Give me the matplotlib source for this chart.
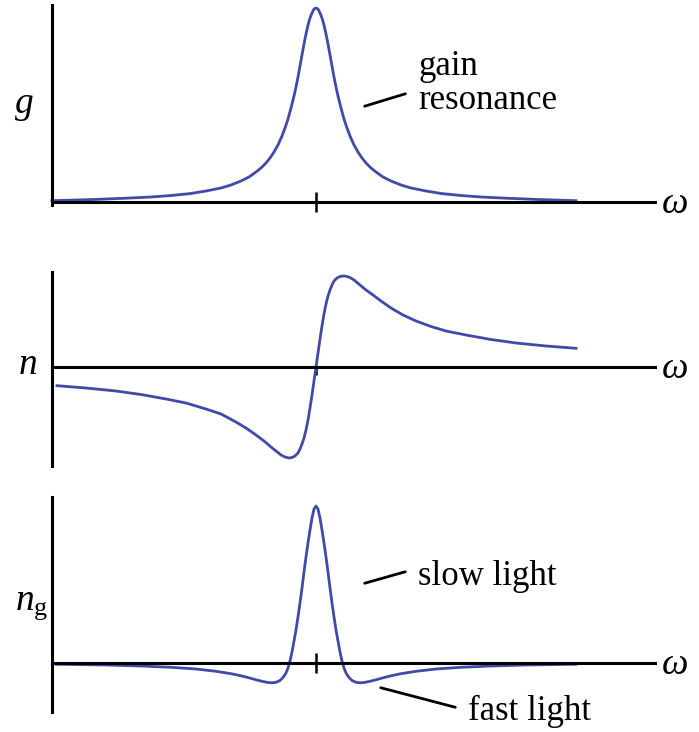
import matplotlib
matplotlib.use("Agg")
import matplotlib.pyplot as plt

plt.rcParams['mathtext.fontset'] = 'custom'
plt.rcParams['mathtext.it'] = 'Liberation Serif:italic'
plt.rcParams['mathtext.rm'] = 'Liberation Serif'

# detuning from resonance (arbitrary units) and curve heights
det_g = [-264, -220, -190, -165, -145, -125, -110, -95, -85, -75, -67, -60, -55, -50, -46, -42, -38,
         -34, -31, -28, -25, -22, -20, -18, -16, -14, -12, -10, -8, -6, -4, -2, 0,
         2, 4, 6, 8, 10, 12, 14, 16, 18, 20, 22, 25, 28, 31, 34, 38, 42, 46, 50, 55, 60, 67, 75,
         85, 95, 110, 125, 145, 165, 190, 220, 260]
gain = [1.3, 2.6, 3.8, 5, 6.5, 8.5, 11, 14, 17, 21, 25, 30, 34, 39, 44, 50, 57,
        66, 74, 83, 94, 106, 115, 125, 136, 147, 158, 168, 177, 184, 189, 193, 194,
        193, 189, 184, 177, 168, 158, 147, 136, 125, 115, 106, 94, 83, 74, 66, 57, 50, 44, 39, 34, 30, 25, 21,
        17, 14, 11, 8.5, 6.5, 5, 3.8, 2.6, 1.3]

det_n = [-259, -230, -200, -175, -150, -130, -110, -95, -80, -70, -60, -52, -45, -40, -35, -31, -27,
         -24, -21, -18, -16, -14, -12, -10, -8, -6, -4, -2, 0, 2, 4, 6, 8, 10, 12, 14, 16, 18, 21,
         24, 27, 30, 34, 38, 44, 50, 57, 65, 75, 87, 100, 115, 130, 150, 175, 200, 230, 260]
index_n = [-18.7, -21, -24, -27.5, -32, -36, -42, -47, -55, -61, -68, -74, -80, -84, -88, -90, -91,
           -90.5, -89, -86, -82, -77, -71, -63, -53, -41, -28, -14, 0, 14, 28, 41, 53, 63, 71, 77, 82, 86, 89,
           90.5, 91, 90.8, 89.5, 87, 82, 77, 72, 66, 59, 52, 46, 40.5, 36, 32, 27.5, 24, 21, 18.7]

det_ng = [-260, -210, -175, -145, -120, -100, -85, -75, -67, -60, -54, -48, -44, -40, -36, -33, -30,
          -28, -26, -24, -22, -20, -18, -16, -14, -12, -10, -8, -6, -4, -2, 0,
          2, 4, 6, 8, 10, 12, 14, 16, 18, 20, 22, 24, 26, 28, 30, 33, 36, 40, 44, 48, 54, 60, 67,
          75, 85, 100, 120, 145, 175, 210, 260]
group_n = [-1.2, -2, -3, -4.3, -6, -8.3, -10.7, -12.8, -14.8, -16.8, -18.3, -19.5, -19.8, -19.3, -17.5, -14.5, -10,
           -5, 2, 11, 22, 33, 46, 60, 75, 91, 106, 120, 133, 145, 154, 157,
           154, 145, 133, 120, 106, 91, 75, 60, 46, 33, 22, 11, 2, -5, -10, -14.5, -17.5, -19.3, -19.8, -19.5, -18.3, -16.8, -14.8,
           -12.8, -10.7, -8.3, -6, -4.3, -3, -2, -1.2]

W, H = 699, 732
curve_color = '#4149a9'

fig = plt.figure(figsize=(W / 100, H / 100), dpi=100)


def make_axes(top_px, bottom_px, base_px):
    ax = fig.add_axes([52 / W, 1 - bottom_px / H, 603 / W, (bottom_px - top_px) / H])
    ax.set_xlim(-264, 339)
    ax.set_ylim(-(bottom_px - base_px), base_px - top_px)
    for s in ['top', 'right']:
        ax.spines[s].set_visible(False)
    ax.spines['bottom'].set_position(('data', 0))
    ax.spines['left'].set_linewidth(2.2)
    ax.spines['bottom'].set_linewidth(2.2)
    ax.set_yticks([])
    ax.set_xticks([0])
    ax.set_xticklabels([])
    ax.patch.set_alpha(0)
    return ax


curve_kw = dict(color=curve_color, lw=2.0, clip_on=False, solid_joinstyle='round')

ax1 = make_axes(5, 205, 202)
ax1.tick_params(axis='x', direction='inout', length=14, width=1.8)
ax1.plot(det_g, gain, **curve_kw)

ax2 = make_axes(272, 466, 367)
ax2.tick_params(axis='x', direction='out', length=6, width=1.8)
ax2.plot(det_n, index_n, **curve_kw)

ax3 = make_axes(497, 712, 663)
ax3.tick_params(axis='x', direction='inout', length=14, width=1.8)
ax3.plot(det_ng, group_n, **curve_kw)

# leader lines for the labels
line_kw = dict(arrowstyle='-', lw=2.0, color='black')
ax1.annotate('', xy=(46, 95), xytext=(92, 109), arrowprops=line_kw, annotation_clip=False)
ax3.annotate('', xy=(46, 79), xytext=(92, 92), arrowprops=line_kw, annotation_clip=False)
ax3.annotate('', xy=(62, -24), xytext=(142, -45), arrowprops=line_kw, annotation_clip=False)

txt = dict(family='Liberation Serif', fontsize=25, va='baseline', ha='left')
fig.text(418 / W, 1 - 75 / H, 'gain', **txt)
fig.text(418 / W, 1 - 109 / H, 'resonance', **txt)
fig.text(418 / W, 1 - 585 / H, 'slow light', **txt)
fig.text(468 / W, 1 - 720 / H, 'fast light', **txt)

sym = dict(family='Liberation Serif', style='italic', fontsize=27, va='baseline', ha='center')
fig.text(24 / W, 1 - 113 / H, 'g', **sym)
fig.text(675 / W, 1 - 213 / H, '\u03c9', **sym)
fig.text(28 / W, 1 - 374 / H, 'n', **sym)
fig.text(675 / W, 1 - 378 / H, '\u03c9', **sym)
fig.text(32 / W, 1 - 610 / H, r'$n_{\mathrm{g}}$', fontsize=27, va='baseline', ha='center')
fig.text(675 / W, 1 - 674 / H, '\u03c9', **sym)

fig.savefig('out.png', dpi=100)
